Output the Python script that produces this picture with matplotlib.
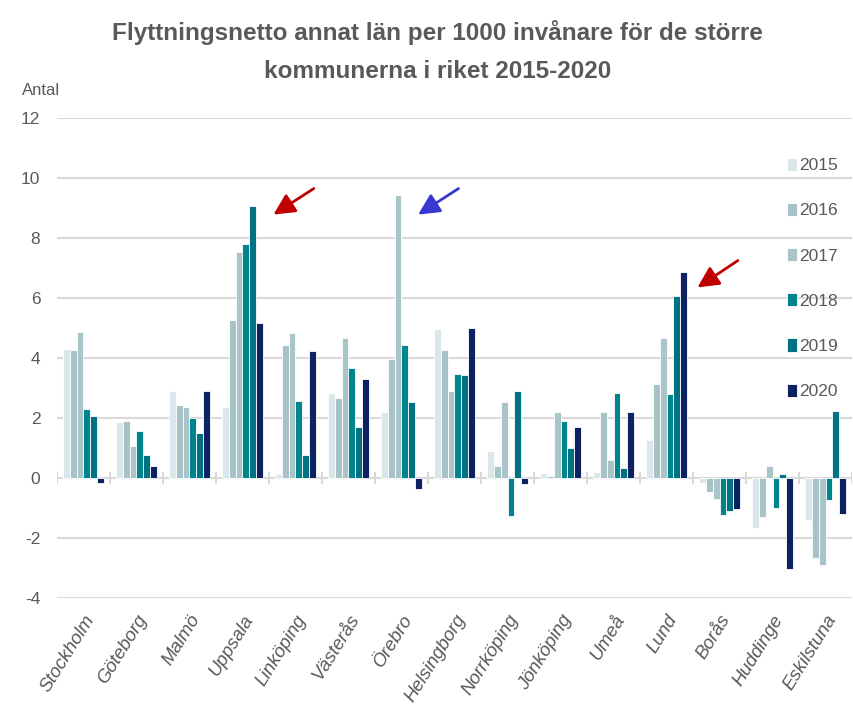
import numpy as np
import matplotlib.pyplot as plt

plt.rcParams['axes.unicode_minus'] = False
plt.rcParams['font.family'] = ['Liberation Sans', 'DejaVu Sans']

kommuner = ['Stockholm', 'Göteborg', 'Malmö', 'Uppsala', 'Linköping', 'Västerås',
            'Örebro', 'Helsingborg', 'Norrköping', 'Jönköping', 'Umeå', 'Lund',
            'Borås', 'Huddinge', 'Eskilstuna']
years = ['2015', '2016', '2017', '2018', '2019', '2020']

v2015 = [4.30, 1.87, 2.90, 2.36, 0.12, 2.82, 2.20, 4.96, 0.91, 0.18, 0.20, 1.26, -0.16, -1.66, -1.41]
v2016 = [4.26, 1.91, 2.43, 5.28, 4.43, 2.66, 3.96, 4.26, 0.39, 0.06, 2.20, 3.13, -0.45, -1.31, -2.68]
v2017 = [4.86, 1.08, 2.38, 7.53, 4.84, 4.66, 9.44, 2.91, 2.52, 2.20, 0.59, 4.68, -0.70, 0.40, -2.90]
v2018 = [2.30, 1.56, 2.01, 7.81, 2.58, 3.66, 4.44, 3.47, -1.27, 1.90, 2.82, 2.79, -1.24, -0.99, -0.74]
v2019 = [2.07, 0.76, 1.50, 9.07, 0.77, 1.69, 2.54, 3.43, 2.91, 1.00, 0.33, 6.07, -1.11, 0.13, 2.24]
v2020 = [-0.15, 0.40, 2.91, 5.18, 4.22, 3.30, -0.37, 5.01, -0.20, 1.69, 2.19, 6.88, -1.03, -3.04, -1.21]
series = [v2015, v2016, v2017, v2018, v2019, v2020]
colors = ['#dbe6ea', '#a8c3c8', '#aac5ca', '#00858e', '#007283', '#0c2262']

# arrows (tail -> head), data coords
arrows = [((4.39, 9.7), (3.54, 8.73), '#c00000'),
          ((7.12, 9.7), (6.27, 8.73), '#3838d0'),
          ((12.39, 7.3), (11.54, 6.3), '#c00000')]

grey = '#595959'
fig = plt.figure(figsize=(8.54, 7.2), dpi=100)
ax = fig.add_axes([0.0667, 0.1694, 0.931, 0.6667])

x = np.arange(len(kommuner))
w = 0.128
for k, (vals, c) in enumerate(zip(series, colors)):
    ax.bar(x + (k - 2.5) * w, vals, w, color=c, edgecolor='white', linewidth=0.6,
           label=years[k], zorder=3)

ax.set_xlim(-0.5, len(kommuner) - 0.5)
ax.set_ylim(-4, 12)
ax.set_yticks(np.arange(-4, 13, 2))
ax.grid(axis='y', color='#d9d9d9', linewidth=1.5, zorder=0)
ax.axhline(0, color='#d9d9d9', linewidth=1.5, zorder=2)
ax.vlines(np.arange(len(kommuner) + 1) - 0.5, -0.2, 0.2, color='#d9d9d9', linewidth=1.5, zorder=2)
for s in ax.spines.values():
    s.set_visible(False)
ax.tick_params(length=0)
ax.tick_params(axis='y', labelsize=12.5, labelcolor=grey, pad=12)
ax.set_xticks(x)
ax.set_xticklabels(kommuner, rotation=58, ha='right', rotation_mode='anchor',
                   style='italic', fontsize=13.5, color=grey)
ax.tick_params(axis='x', pad=10)

for tail, head, c in arrows:
    ax.annotate('', xy=head, xytext=tail,
                arrowprops=dict(arrowstyle='-|>', color=c, lw=2, mutation_scale=32))

leg = ax.legend(loc='upper left', bbox_to_anchor=(0.898, 0.95), frameon=False,
                handlelength=0.6, handleheight=0.8, handletextpad=0.1,
                labelspacing=1.7, prop={'size': 12.5})
for t in leg.get_texts():
    t.set_color(grey)

fig.text(0.512, 0.972, 'Flyttningsnetto annat län per 1000 invånare för de större\nkommunerna i riket 2015-2020',
         ha='center', va='top', fontsize=17.5, fontweight='bold', color=grey,
         linespacing=1.8)
fig.text(0.026, 0.868, 'Antal', fontsize=12, color=grey)

fig.savefig('out.png', dpi=100)
